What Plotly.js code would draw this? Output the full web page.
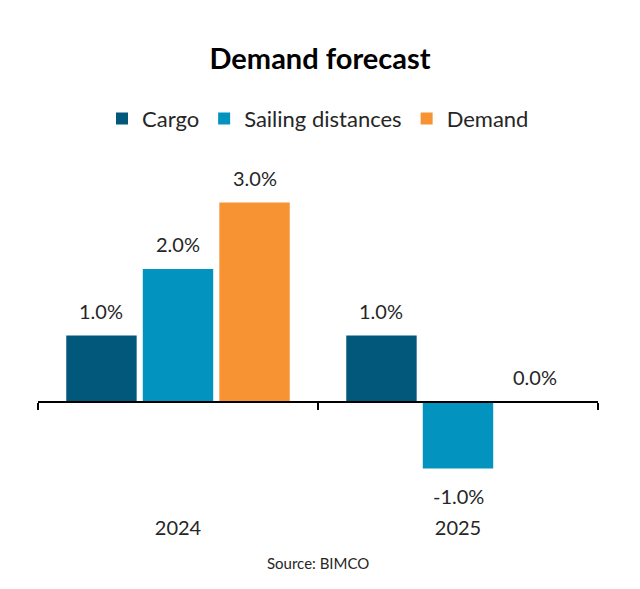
<!DOCTYPE html>
<html>
<head>
<meta charset="utf-8">
<script src="https://cdn.plot.ly/plotly-3.0.1.min.js"></script>
<style>html,body{margin:0;padding:0;background:#fff;}#chart{width:640px;height:589px;}</style>
</head>
<body>
<div id="chart"></div>
<script>
// Demand forecast, growth in percent
const years = ['2024', '2025'];
const seriesNames = ['Cargo', 'Sailing distances', 'Demand'];
const cargo = [1.0, 1.0];
const sailing = [2.0, -1.0];
const demand = [3.0, 0.0];
const colors = ['#02587b', '#0293bf', '#f79332'];

const values = [cargo, sailing, demand];
const FONT = 'Lato, "Liberation Sans", sans-serif';

const traces = values.map((vals, i) => ({
  type: 'bar',
  name: seriesNames[i],
  x: years,
  y: vals,
  marker: {color: colors[i], line: {width: 0}},
  hoverinfo: 'skip'
}));

// value labels above / below each bar, offset from the bar end
const slots = 3, bargap = 0.18;
const annotations = [];
values.forEach((vals, i) => {
  vals.forEach((v, j) => {
    const slotW = (1 - bargap) / slots;
    const xpos = j - (1 - bargap) / 2 + slotW * (i + 0.5);
    annotations.push({
      x: xpos, y: v, xref: 'x', yref: 'y',
      text: v.toFixed(1) + '%',
      showarrow: false,
      yshift: v < 0 ? -27 : 25,
      font: {family: FONT, size: 20, color: '#262626'}
    });
  });
});
annotations.push({
  text: 'Source: BIMCO', xref: 'paper', yref: 'paper',
  x: 0.5, y: -0.25, xanchor: 'center', yanchor: 'middle',
  showarrow: false, font: {family: FONT, size: 15, color: '#262626'}
});

const plotTop = 150, plotBottom = 480, zeroPx = 402, pxPerUnit = 66.5;
const yMax = (zeroPx - plotTop) / pxPerUnit;
const yMin = -(plotBottom - zeroPx) / pxPerUnit;

const layout = {
  width: 640, height: 589,
  margin: {l: 38, r: 42, t: plotTop, b: 589 - plotBottom},
  paper_bgcolor: '#fff', plot_bgcolor: '#fff',
  title: {text: '<b>Demand forecast</b>', x: 0.5, xanchor: 'center', y: 0.9, yanchor: 'middle',
          font: {family: FONT, size: 29, color: '#000'}},
  barmode: 'group', bargap: bargap, bargroupgap: 0.08,
  showlegend: true,
  legend: {orientation: 'h', x: 0.5, xanchor: 'center', y: 1.095, yanchor: 'middle',
           font: {family: FONT, size: 22, color: '#262626'}, itemwidth: 30, tracegroupgap: 0},
  xaxis: {
    type: 'category', range: [-0.5, 1.5],
    anchor: 'free', position: (plotBottom - zeroPx) / (plotBottom - plotTop),
    showline: true, linecolor: '#000', linewidth: 2,
    ticks: 'outside', tickson: 'boundaries', ticklen: 7, tickwidth: 2, tickcolor: '#000',
    ticklabelstandoff: 108,
    tickfont: {family: FONT, size: 20, color: '#262626'},
    showgrid: false, zeroline: false, fixedrange: true
  },
  yaxis: {
    range: [yMin, yMax], visible: false, showgrid: false, zeroline: false, fixedrange: true
  },
  annotations: annotations
};

Plotly.newPlot('chart', traces, layout, {displayModeBar: false, staticPlot: true});
</script>
</body>
</html>
